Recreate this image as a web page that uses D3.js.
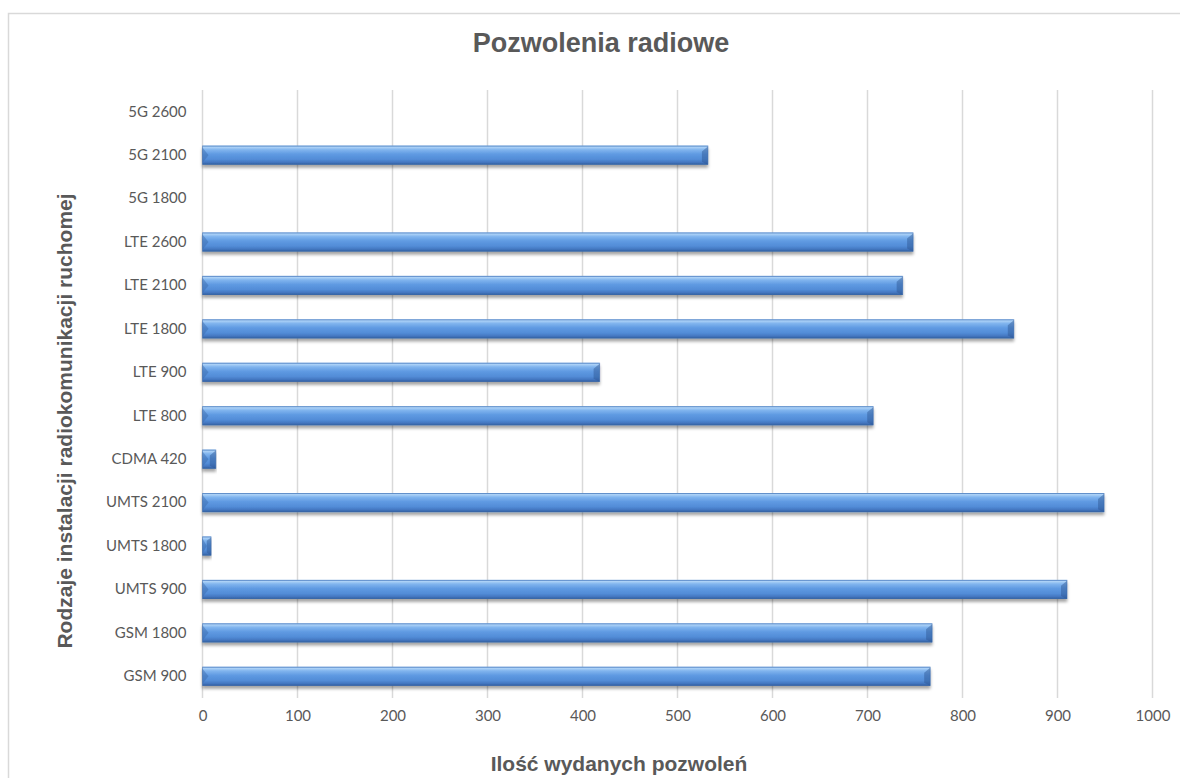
<!DOCTYPE html>
<html>
<head>
<meta charset="utf-8">
<script src="https://cdn.jsdelivr.net/npm/d3@7"></script>
<style>
  html, body { margin: 0; padding: 0; background: #fff; }
  svg { display: block; }
</style>
</head>
<body>
<svg id="chart" width="1180" height="778"></svg>
<script>
// Categories listed from the bottom of the chart upwards
const categories = [
  "GSM 900", "GSM 1800", "UMTS 900", "UMTS 1800", "UMTS 2100", "CDMA 420",
  "LTE 800", "LTE 900", "LTE 1800", "LTE 2100", "LTE 2600",
  "5G 1800", "5G 2100", "5G 2600"
];
const permits = [766, 768, 910, 9, 949, 14, 706, 418, 854, 737, 748, 0, 532, 0];
const xTicks = [0, 100, 200, 300, 400, 500, 600, 700, 800, 900, 1000];

const titleText = "Pozwolenia radiowe";
const xTitleText = "Ilość wydanych pozwoleń";
const yTitleText = "Rodzaje instalacji radiokomunikacji ruchomej";

const svg = d3.select("#chart");
const W = 1180, H = 778;
const plot = { left: 202.5, right: 1152.5, top: 90, bottom: 698 };
const textColor = "#595959";
const gridColor = "#d9d9d9";

// Chart frame
svg.append("rect")
  .attr("x", 8.5).attr("y", 13.5)
  .attr("width", W + 20).attr("height", H + 40)
  .attr("fill", "#fff")
  .attr("stroke", "#d9d9d9").attr("stroke-width", 1.5);

const defs = svg.append("defs");

const grad = defs.append("linearGradient")
  .attr("id", "barFill").attr("x1", 0).attr("y1", 0).attr("x2", 0).attr("y2", 1);
[
  [0, "#86b7f0"], [0.08, "#add2f7"], [0.22, "#80b4ee"], [0.45, "#5f9ae2"],
  [0.72, "#528cd7"], [0.88, "#4376c0"], [1, "#315e9c"]
].forEach(([o, c]) => grad.append("stop").attr("offset", o).attr("stop-color", c));

const shadow = defs.append("filter").attr("id", "barShadow")
  .attr("x", "-5%").attr("y", "-30%").attr("width", "110%").attr("height", "180%");
shadow.append("feDropShadow")
  .attr("dx", 0).attr("dy", 3).attr("stdDeviation", 1.8)
  .attr("flood-color", "#000").attr("flood-opacity", 0.35);

// Scales
const x = d3.scaleLinear().domain([0, 1000]).range([plot.left, plot.right]);
const y = d3.scaleBand()
  .domain(categories.slice().reverse())
  .range([plot.top, plot.bottom])
  .paddingInner(0.56).paddingOuter(0.28);

// Vertical grid lines
svg.append("g")
  .selectAll("line")
  .data(xTicks)
  .join("line")
  .attr("x1", d => x(d)).attr("x2", d => x(d))
  .attr("y1", plot.top).attr("y2", plot.bottom)
  .attr("stroke", gridColor).attr("stroke-width", 1.5);

// X axis tick labels
const xAxis = d3.axisBottom(x).tickValues(xTicks).tickFormat(d3.format("d"))
  .tickSize(0).tickPadding(0);
const gx = svg.append("g")
  .attr("transform", `translate(0, ${plot.bottom + 18})`)
  .call(xAxis);
gx.select(".domain").remove();
gx.selectAll("text")
  .attr("fill", textColor)
  .attr("font-family", "Lato, 'Open Sans', sans-serif")
  .attr("font-size", 15)
  .attr("dy", "0.32em")
  .attr("y", 0);

// Y axis category labels
const yAxis = d3.axisLeft(y).tickSize(0).tickPadding(0);
const gy = svg.append("g")
  .attr("transform", `translate(${plot.left - 16}, 0)`)
  .call(yAxis);
gy.select(".domain").remove();
gy.selectAll("text")
  .attr("fill", textColor)
  .attr("font-family", "Lato, 'Open Sans', sans-serif")
  .attr("font-size", 15)
  .attr("x", 0);

// Bars with bevelled ends
const rows = categories.map((c, i) => ({ cat: c, value: permits[i] }));
const bars = svg.append("g").selectAll("g")
  .data(rows.filter(d => d.value > 0))
  .join("g")
  .attr("filter", "url(#barShadow)");

bars.append("rect")
  .attr("x", d => x(0))
  .attr("y", d => y(d.cat))
  .attr("width", d => x(d.value) - x(0))
  .attr("height", y.bandwidth())
  .attr("fill", "url(#barFill)");

function capPoints(d, side) {
  const x0 = x(0), x1 = x(d.value);
  const y0 = y(d.cat), y1 = y0 + y.bandwidth();
  const b = Math.min(6, (x1 - x0) / 2);
  const ym = (y0 + y1) / 2;
  if (side === "left") {
    return [[x0, y0 + 2], [x0 + b, ym], [x0, y1 - 2]];
  }
  return [[x1, y0 + 1], [x1 - b, y0 + b], [x1 - b, y1 - 3], [x1, y1]];
}

bars.append("polygon")
  .attr("points", d => capPoints(d, "left").map(p => p.join(",")).join(" "))
  .attr("fill", "#3a68a8").attr("fill-opacity", 0.45);

bars.append("polygon")
  .attr("points", d => capPoints(d, "right").map(p => p.join(",")).join(" "))
  .attr("fill", "#2c5590").attr("fill-opacity", 0.45);

bars.append("rect")
  .attr("x", d => x(0))
  .attr("y", d => y(d.cat) + 0.5)
  .attr("width", d => x(d.value) - x(0))
  .attr("height", y.bandwidth() - 1)
  .attr("fill", "none")
  .attr("stroke", "#3b6aab").attr("stroke-opacity", 0.55).attr("stroke-width", 1);

// Titles
svg.append("text")
  .attr("x", 601).attr("y", 52)
  .attr("text-anchor", "middle")
  .attr("font-family", "'Liberation Sans', Arial, sans-serif")
  .attr("font-weight", "bold")
  .attr("font-size", 27)
  .attr("fill", textColor)
  .text(titleText);

svg.append("text")
  .attr("x", 619).attr("y", 771)
  .attr("text-anchor", "middle")
  .attr("font-family", "'Liberation Sans', Arial, sans-serif")
  .attr("font-weight", "bold")
  .attr("font-size", 21)
  .attr("fill", textColor)
  .text(xTitleText);

svg.append("text")
  .attr("transform", "translate(72, 421) rotate(-90)")
  .attr("text-anchor", "middle")
  .attr("font-family", "'Liberation Sans', Arial, sans-serif")
  .attr("font-weight", "bold")
  .attr("font-size", 21)
  .attr("fill", textColor)
  .text(yTitleText);
</script>
</body>
</html>
